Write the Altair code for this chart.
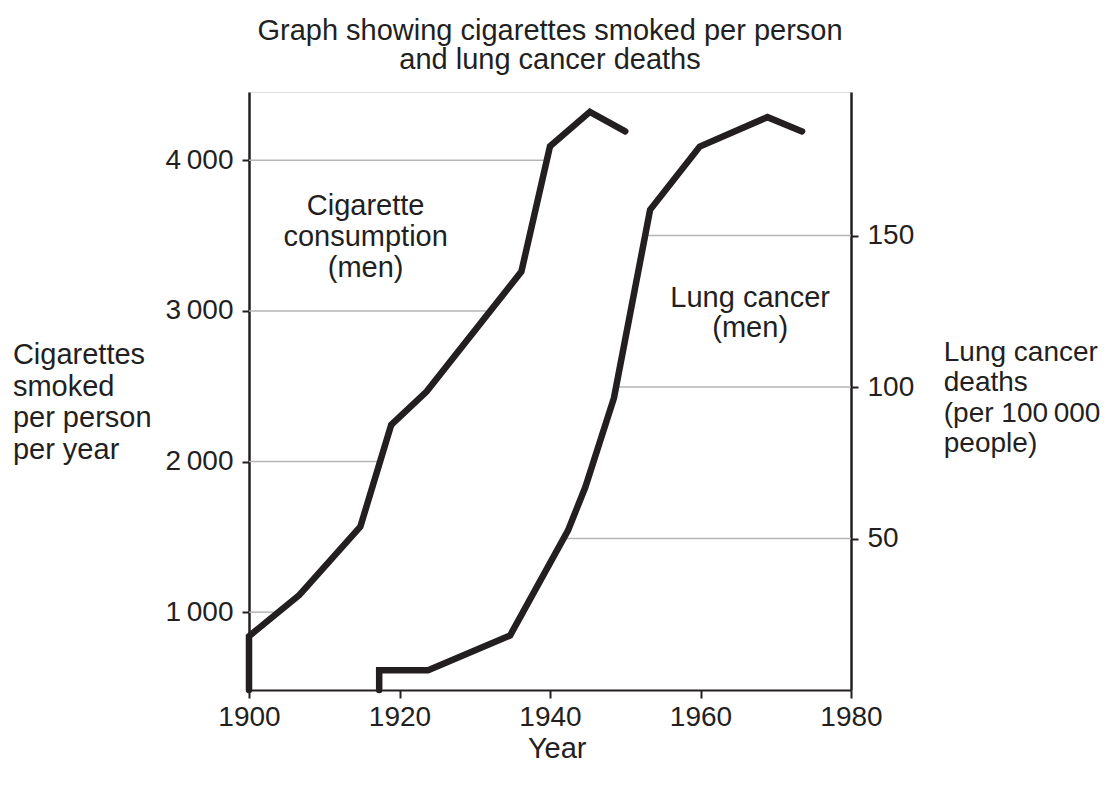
import altair as alt
import pandas as pd
import numpy as np

# ---- data ----
cig_years = [1900, 1900, 1906.7, 1914.8, 1918.9, 1923.6, 1936.2, 1940.0, 1945.3, 1950.0]
cig_values = [483, 840, 1114, 1568, 2244, 2465, 3262, 4093, 4322, 4193]

lung_years = [1917.3, 1917.3, 1923.8, 1934.7, 1942.4, 1944.7, 1948.5, 1953.3, 1959.9, 1968.9, 1973.5]
lung_values = [0, 6.5, 6.5, 18.0, 52.7, 67.0, 96.4, 158.5, 179.4, 189.1, 184.4]

left_ticks = [1000, 2000, 3000, 4000]
right_ticks = [50, 100, 150]
year_ticks = [1900, 1920, 1940, 1960, 1980]

left_domain = [483, 4454]
right_domain = [0, 197.4]
year_domain = [1900, 1980]

title_lines = ["Graph showing cigarettes smoked per person", "and lung cancer deaths"]
left_title = ["Cigarettes", "smoked", "per person", "per year"]
right_title = ["Lung cancer", "deaths", "(per 100\u2009000", "people)"]
x_title = "Year"

ann_left_text = ["Cigarette\nconsumption\n(men)"]
ann_left_year = [1915.5]
ann_left_value = [3640]
ann_right_text = ["Lung cancer\n(men)"]
ann_right_year = [1966.6]
ann_right_value = [126.5]

INK = "#231f20"
FONT = "Liberation Sans"
FS = 29
LFS = 28

# gridline extents: from axis to the curve crossing
peak_c = int(np.argmax(cig_values))
left_cross = np.interp(left_ticks, cig_values[1:peak_c + 1], cig_years[1:peak_c + 1])
peak_l = int(np.argmax(lung_values))
right_cross = np.interp(right_ticks, lung_values[2:peak_l + 1], lung_years[2:peak_l + 1])

cig_df = pd.DataFrame({"year": cig_years, "value": cig_values, "order": range(len(cig_years))})
lung_df = pd.DataFrame({"year": lung_years, "value": lung_values, "order": range(len(lung_years))})
gl_df = pd.DataFrame({"value": left_ticks, "x1": [year_domain[0]] * len(left_ticks), "x2": left_cross})
gr_df = pd.DataFrame({"value": right_ticks, "x1": right_cross, "x2": [year_domain[1]] * len(right_ticks)})
annl_df = pd.DataFrame({"t": ann_left_text, "year": ann_left_year, "value": ann_left_value})
annr_df = pd.DataFrame({"t": ann_right_text, "year": ann_right_year, "value": ann_right_value})

x_axis = alt.Axis(values=year_ticks, format="d", labelFont=FONT, labelFontSize=LFS, labelColor=INK,
                  labelFlush=False, labelOverlap=False,
                  domainColor=INK, domainWidth=2, tickColor=INK, tickWidth=2, tickSize=8,
                  labelPadding=5, grid=False, title=x_title, titleFont=FONT, titleFontSize=FS,
                  titleFontWeight="normal", titleColor=INK, titleAnchor="start", titleAlign="center",
                  titleBaseline="alphabetic", titleX=307.7, titleY=67)
x_scale = alt.Scale(domain=year_domain, nice=False, zero=False)

thin_lbl = "replace(format(datum.value, ','), ',', '\u2009')"
y_left_axis = alt.Axis(orient="left", values=left_ticks, labelExpr=thin_lbl, labelFont=FONT,
                       labelFontSize=LFS, labelColor=INK, domainColor=INK, domainWidth=2.5,
                       tickColor=INK, tickWidth=2, tickSize=7, labelPadding=9, grid=False,
                       labelFlush=False,
                       title=left_title, titleFont=FONT, titleFontSize=FS, titleFontWeight="normal",
                       titleColor=INK, titleAngle=0, titleAlign="left", titleBaseline="alphabetic",
                       titleLineHeight=31.5, titleX=-236.6, titleY=271.7, titleAnchor="start")
y_left_scale = alt.Scale(domain=left_domain, nice=False, zero=False)

y_right_axis = alt.Axis(orient="right", values=right_ticks, labelFont=FONT, labelFontSize=LFS,
                        labelColor=INK, domainColor=INK, domainWidth=2.5, tickColor=INK, tickWidth=2,
                        tickSize=7, labelPadding=9, grid=False, labelFlush=False,
                        title=right_title, titleFont=FONT,
                        titleFontSize=LFS, titleFontWeight="normal", titleColor=INK, titleAngle=0,
                        titleAlign="left", titleBaseline="alphabetic", titleLineHeight=30.5,
                        titleX=92.3, titleY=268, titleAnchor="start")
y_right_scale = alt.Scale(domain=right_domain, nice=False, zero=False)

GRID = "#b5b5b5"

grid_left = alt.Chart(gl_df).mark_rule(color=GRID, strokeWidth=1.5).encode(
    x=alt.X("x1:Q", scale=x_scale, axis=x_axis), x2="x2:Q",
    y=alt.Y("value:Q", scale=y_left_scale, axis=y_left_axis))
cig_line = alt.Chart(cig_df).mark_line(color=INK, strokeWidth=6.5, strokeCap="round",
                                       strokeJoin="miter", clip=False).encode(
    x=alt.X("year:Q", scale=x_scale, axis=x_axis),
    y=alt.Y("value:Q", scale=y_left_scale, axis=y_left_axis), order="order:Q")
ann_left = alt.Chart(annl_df).mark_text(font=FONT, fontSize=FS, color=INK, lineBreak="\n",
                                        lineHeight=31, align="center", baseline="alphabetic").encode(
    x=alt.X("year:Q", scale=x_scale, axis=x_axis),
    y=alt.Y("value:Q", scale=y_left_scale, axis=y_left_axis), text="t:N")
left = alt.layer(grid_left, cig_line, ann_left)

grid_right = alt.Chart(gr_df).mark_rule(color=GRID, strokeWidth=1.5).encode(
    x=alt.X("x1:Q", scale=x_scale, axis=x_axis), x2="x2:Q",
    y=alt.Y("value:Q", scale=y_right_scale, axis=y_right_axis))
lung_line = alt.Chart(lung_df).mark_line(color=INK, strokeWidth=6.5, strokeCap="round",
                                         strokeJoin="miter", clip=False).encode(
    x=alt.X("year:Q", scale=x_scale, axis=x_axis),
    y=alt.Y("value:Q", scale=y_right_scale, axis=y_right_axis), order="order:Q")
ann_right = alt.Chart(annr_df).mark_text(font=FONT, fontSize=FS, color=INK, lineBreak="\n",
                                         lineHeight=30, align="center", baseline="alphabetic").encode(
    x=alt.X("year:Q", scale=x_scale, axis=x_axis),
    y=alt.Y("value:Q", scale=y_right_scale, axis=y_right_axis), text="t:N")
right = alt.layer(grid_right, lung_line, ann_right)

chart = alt.layer(left, right).resolve_scale(y="independent").properties(
    width=602, height=598,
    padding={"left": 241, "top": 84, "right": 251, "bottom": 94},
    autosize=alt.AutoSizeParams(type="none"),
    title=alt.TitleParams(text=title_lines, font=FONT, fontSize=FS, fontWeight="normal",
                          color=INK, anchor="middle", lineHeight=29, offset=17),
).configure_view(stroke="#8c8c8c", strokeWidth=1.5).configure(background="white")

chart.save("out.html", embed_options={"renderer": "svg", "actions": False})
